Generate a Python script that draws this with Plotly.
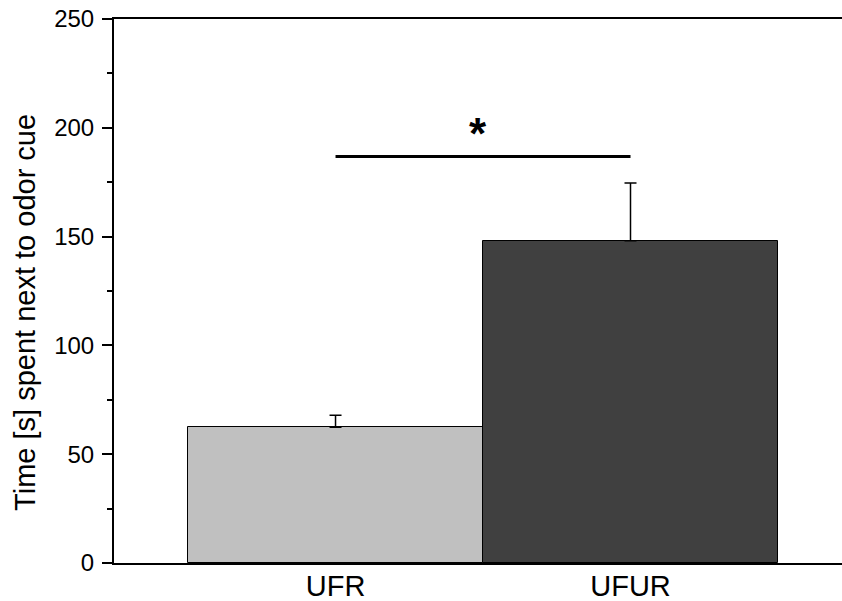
import plotly.graph_objects as go

# Group data
groups = ["UFR", "UFUR"]
mean_time = [62.4, 148.1]
sem_time = [5.5, 26.5]
bar_colors = ["#c0c0c0", "#404040"]

# Significance bracket between the two groups
sig_y = 186.8
sig_label = "*"
sig_label_y = 199

y_ticks = [0, 50, 100, 150, 200, 250]
y_title = "Time [s] spent next to odor cue"

fig = go.Figure()

fig.add_trace(go.Bar(
    x=[0, 1],
    y=mean_time,
    width=1.0,
    marker=dict(color=bar_colors, line=dict(color="black", width=1)),
    error_y=dict(type="data", array=sem_time, arrayminus=[0, 0], symmetric=False,
                 color="black", thickness=1.5, width=6),
    showlegend=False,
))

# Significance line
fig.add_trace(go.Scatter(
    x=[0, 1], y=[sig_y, sig_y], mode="lines",
    line=dict(color="black", width=3), showlegend=False, hoverinfo="skip",
))

fig.add_annotation(
    x=0.5, y=sig_label_y, text="<b>" + sig_label + "</b>", showarrow=False,
    font=dict(family="Liberation Sans, Arial", size=44, color="black"),
    yanchor="middle", xshift=-5, yshift=-4,
)

# Y-axis title placed as a rotated annotation
fig.add_annotation(
    xref="paper", yref="paper", x=-0.122, y=0.46,
    text=y_title, textangle=-90, showarrow=False,
    font=dict(family="Liberation Sans, Arial", size=29, color="black"),
    xanchor="center", yanchor="middle",
)

fig.update_layout(
    width=842, height=601,
    margin=dict(l=114, r=0, t=19, b=38),
    plot_bgcolor="white", paper_bgcolor="white",
    font=dict(family="Liberation Sans, Arial", color="black", size=23),
    bargap=0,
)

fig.update_xaxes(
    range=[-0.751, 1.717],
    tickvals=[0, 1], ticktext=groups,
    tickfont=dict(size=29),
    ticklabelstandoff=-4,
    ticks="", showgrid=False, zeroline=False, automargin=False,
    showline=True, linecolor="black", linewidth=2, mirror=True,
)

fig.update_yaxes(
    range=[0, 250],
    tickvals=y_ticks, tickfont=dict(size=24),
    ticks="outside", ticklen=10, tickwidth=2, tickcolor="black",
    ticklabelstandoff=3,
    minor=dict(dtick=25, ticks="outside", ticklen=5, tickwidth=1.5, tickcolor="black", showgrid=False),
    showgrid=False, zeroline=False, automargin=False,
    showline=True, linecolor="black", linewidth=2,
)

fig.write_html("out.html")
